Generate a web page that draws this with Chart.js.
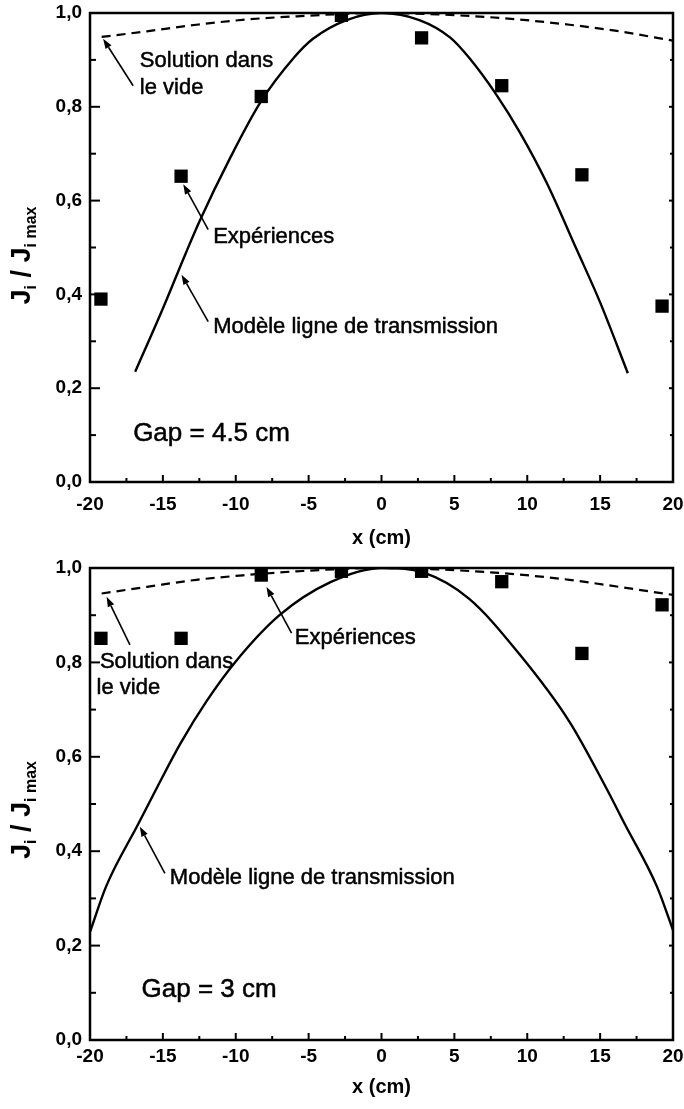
<!DOCTYPE html>
<html><head><meta charset="utf-8">
<script src="https://cdn.jsdelivr.net/npm/chart.js@4.4.1/dist/chart.umd.min.js"></script>
<style>
html,body{margin:0;padding:0;background:#fff;}
canvas{display:block;}
</style></head>
<body>
<canvas id="c1" width="684" height="555"></canvas>
<canvas id="c2" width="684" height="554"></canvas>
<script>
// ---------- data ----------
const xTickValues = [-20,-15,-10,-5,0,5,10,15,20];
const yTickLabels = ['0,0','0,2','0,4','0,6','0,8','1,0'];

const expX = [-19.25,-13.75,-8.25,-2.75,2.75,8.25,13.75,19.25];
const expY_gap45 = [0.39,0.652,0.822,0.995,0.947,0.845,0.655,0.375];
const expY_gap3  = [0.851,0.851,0.985,0.993,0.993,0.971,0.819,0.922];

const modelX_gap45 = [-16.9,-15,-13.4,-12.5,-10.4,-8.3,-6,-4.7,-2.4,0,2.6,4.7,6,7.9,9.5,11.3,13.4,15,16.9];
const modelY_gap45 = [0.235,0.37,0.49,0.555,0.69,0.81,0.905,0.945,0.985,1.0,0.985,0.948,0.905,0.825,0.745,0.64,0.495,0.383,0.232];

const vacX_gap45 = [-19.2,-16.1,-12.7,-9.3,-5.8,0,3.8,8.3,12.9,16.3,20];
const vacY_gap45 = [0.949,0.961,0.975,0.986,0.993,1.0,0.997,0.989,0.975,0.961,0.941];

const modelX_gap3 = [-20,-18.9,-16.7,-15.4,-13.8,-12,-10,-7,-3.5,0,2.9,6,9.5,12.9,15.4,16.7,18.9,20];
const modelY_gap3 = [0.229,0.325,0.457,0.535,0.628,0.718,0.802,0.90,0.97,1.0,0.99,0.935,0.816,0.674,0.535,0.457,0.325,0.233];

const vacX_gap3 = [-19.2,-16.1,-12.7,-9.3,-5.8,0,3.8,8.3,12.9,16.3,20];
const vacY_gap3 = [0.946,0.960,0.975,0.985,0.993,1.0,0.997,0.989,0.975,0.960,0.943];

// ---------- helpers ----------
const FONT = "'Liberation Sans', Arial, Helvetica, sans-serif";
const pts = (xs, ys) => xs.map((x, i) => ({x, y: ys[i]}));

function arrow(ctx, x1, y1, x2, y2) {
  const a = Math.atan2(y2 - y1, x2 - x1), L = 10, W = 3.5;
  const bx = x2 - L * Math.cos(a), by = y2 - L * Math.sin(a);
  ctx.beginPath(); ctx.moveTo(x1, y1); ctx.lineTo(bx, by); ctx.stroke();
  ctx.beginPath();
  ctx.moveTo(x2, y2);
  ctx.lineTo(bx + W * Math.sin(a), by - W * Math.cos(a));
  ctx.lineTo(bx - W * Math.sin(a), by + W * Math.cos(a));
  ctx.closePath(); ctx.fill();
}

function heavyText(ctx, t, x, y) {
  ctx.fillText(t, x, y);
  ctx.strokeText(t, x, y);
}

const decorPlugin = {
  id: 'decor',
  afterDatasetsDraw(chart) {
    const {ctx, chartArea: {left, right, top, bottom}, scales: {x, y}} = chart;
    const o = chart.options.plugins.decor;
    ctx.save();
    ctx.strokeStyle = '#000'; ctx.fillStyle = '#000';
    // frame
    ctx.lineWidth = 2.5;
    ctx.strokeRect(left, top, right - left, bottom - top);
    // ticks (inward), majors from scale ticks, minors halfway
    ctx.lineWidth = 2;
    const yv = y.ticks.map(t => t.value);
    yv.forEach((v, i) => {
      const p = y.getPixelForValue(v);
      ctx.beginPath(); ctx.moveTo(left, p); ctx.lineTo(left + 10, p); ctx.stroke();
      ctx.beginPath(); ctx.moveTo(right, p); ctx.lineTo(right - 4, p); ctx.stroke();
      if (i < yv.length - 1) {
        const m = y.getPixelForValue((v + yv[i + 1]) / 2);
        ctx.beginPath(); ctx.moveTo(left, m); ctx.lineTo(left + 6, m); ctx.stroke();
        ctx.beginPath(); ctx.moveTo(right, m); ctx.lineTo(right - 3, m); ctx.stroke();
      }
    });
    const xv = x.ticks.map(t => t.value);
    xv.forEach((v, i) => {
      const p = x.getPixelForValue(v);
      ctx.beginPath(); ctx.moveTo(p, bottom); ctx.lineTo(p, bottom - 7); ctx.stroke();
      if (i < xv.length - 1) {
        const m = x.getPixelForValue((v + xv[i + 1]) / 2);
        ctx.beginPath(); ctx.moveTo(m, bottom); ctx.lineTo(m, bottom - 4); ctx.stroke();
      }
    });
    // annotations
    ctx.lineWidth = 1.6;
    o.arrows.forEach(a => arrow(ctx, x.getPixelForValue(a[0]), y.getPixelForValue(a[1]),
                                     x.getPixelForValue(a[2]), y.getPixelForValue(a[3])));
    ctx.textAlign = 'left'; ctx.textBaseline = 'middle';
    ctx.lineWidth = 0.5;
    ctx.font = '22px ' + FONT;
    o.texts.forEach(t => heavyText(ctx, t.t, x.getPixelForValue(t.x), y.getPixelForValue(t.y)));
    ctx.font = '26px ' + FONT;
    heavyText(ctx, o.gap.t, x.getPixelForValue(o.gap.x), y.getPixelForValue(o.gap.y));
    // x title
    ctx.textAlign = 'center';
    ctx.font = 'bold 20px ' + FONT;
    ctx.fillText('x (cm)', (left + right) / 2, o.xTitleY);
    // y title with subscripts
    const parts = [
      {t: 'J', f: 'bold 27px ' + FONT, dy: 0},
      {t: 'i', f: 'bold 16px ' + FONT, dy: 6},
      {t: ' / J', f: 'bold 27px ' + FONT, dy: 0},
      {t: 'i max', f: 'bold 16px ' + FONT, dy: 6}
    ];
    ctx.translate(30, (top + bottom) / 2 + o.yTitleShift);
    ctx.rotate(-Math.PI / 2);
    let w = 0;
    parts.forEach(p => { ctx.font = p.f; p.w = ctx.measureText(p.t).width; w += p.w; });
    let xx = -w / 2;
    ctx.textAlign = 'left'; ctx.textBaseline = 'alphabetic';
    parts.forEach(p => { ctx.font = p.f; ctx.fillText(p.t, xx, p.dy); xx += p.w; });
    ctx.restore();
  }
};

function makeChart(id, xAxisH, xTickPad, expY, modelX, modelY, vacX, vacY, decor) {
  return new Chart(document.getElementById(id), {
    type: 'scatter',
    data: {
      datasets: [
        {label: 'Solution dans le vide', data: pts(vacX, vacY), showLine: true,
         borderColor: '#000', borderWidth: 2.2, borderDash: [9, 6], pointRadius: 0,
         cubicInterpolationMode: 'monotone', fill: false},
        {label: 'Modèle ligne de transmission', data: pts(modelX, modelY), showLine: true,
         borderColor: '#000', borderWidth: 2.4, pointRadius: 0,
         cubicInterpolationMode: 'monotone', fill: false},
        {label: 'Expériences', data: pts(expX, expY), showLine: false,
         pointStyle: 'rect', pointRadius: 9.4, backgroundColor: '#000', borderColor: '#000',
         borderWidth: 0, clip: 0}
      ]
    },
    options: {
      responsive: false, animation: false,
      layout: {autoPadding: false, padding: {left: 0, right: 11, top: 13, bottom: 0}},
      plugins: {legend: {display: false}, tooltip: {enabled: false}, decor: decor},
      scales: {
        x: {type: 'linear', min: -20, max: 20,
            grid: {display: false, drawTicks: false}, border: {display: false},
            afterBuildTicks: s => { s.ticks = xTickValues.map(v => ({value: v})); },
            afterFit: s => { s.height = xAxisH; s.paddingLeft = 0; s.paddingRight = 0; },
            ticks: {padding: xTickPad, color: '#000', font: {family: FONT, size: 19, weight: 'bold'},
                    maxRotation: 0, autoSkip: false, callback: v => String(v)}},
        y: {type: 'linear', min: 0, max: 1,
            grid: {display: false, drawTicks: false}, border: {display: false},
            afterFit: s => { s.width = 90; s.paddingTop = 0; s.paddingBottom = 0; },
            ticks: {stepSize: 0.2, padding: 8, color: '#000',
                    font: {family: FONT, size: 19, weight: 'bold'},
                    callback: v => yTickLabels[Math.round(v * 5)]}}
      }
    },
    plugins: [decorPlugin]
  });
}

makeChart('c1', 73, 11, expY_gap45, modelX_gap45, modelY_gap45, vacX_gap45, vacY_gap45, {
  texts: [
    {t: 'Solution dans', x: -16.58, y: 0.897},
    {t: 'le vide', x: -16.58, y: 0.841},
    {t: 'Expériences', x: -11.55, y: 0.522},
    {t: 'Modèle ligne de transmission', x: -11.55, y: 0.331}
  ],
  gap: {t: 'Gap = 4.5 cm', x: -17.04, y: 0.102},
  arrows: [[-17.04, 0.845, -19.1, 0.945], [-11.89, 0.538, -13.6, 0.635], [-11.89, 0.342, -13.72, 0.442]],
  xTitleY: 538,
  yTitleShift: 8
});

makeChart('c2', 69, 5, expY_gap3, modelX_gap3, modelY_gap3, vacX_gap3, vacY_gap3, {
  texts: [
    {t: 'Solution dans', x: -19.32, y: 0.801},
    {t: 'le vide', x: -19.55, y: 0.745},
    {t: 'Expériences', x: -5.95, y: 0.851},
    {t: 'Modèle ligne de transmission', x: -14.52, y: 0.343}
  ],
  gap: {t: 'Gap = 3 cm', x: -16.46, y: 0.106},
  arrows: [[-17.26, 0.837, -18.86, 0.939], [-6.17, 0.862, -7.89, 0.960], [-14.86, 0.353, -16.58, 0.452]],
  xTitleY: 532,
  yTitleShift: 6
});
</script>
</body></html>
